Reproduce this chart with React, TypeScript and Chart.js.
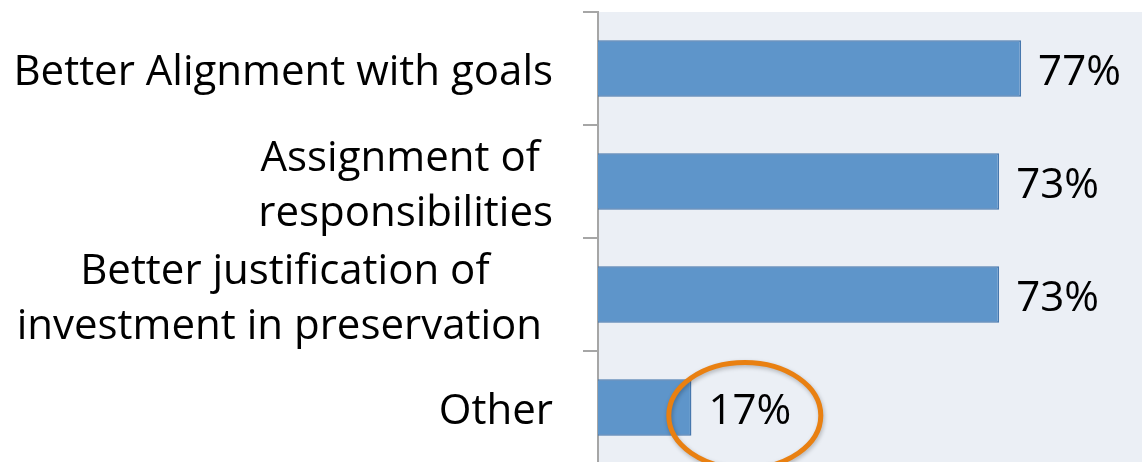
import React, { useEffect, useRef } from "react";
import { Chart, registerables } from "chart.js";

Chart.register(...registerables);

const categories: (string | string[])[] = [
  "Better Alignment with goals",
  ["Assignment of ", "responsibilities"],
  ["Better justification of", "investment in preservation "],
  "Other",
];
const values: number[] = [77, 73, 73, 17];
const valueLabels: string[] = ["77%", "73%", "73%", "17%"];
const highlightIndex = 3;

const FONT = "'Open Sans', sans-serif";
const LABEL_SIZE = 42;

export default function App() {
  const ref = useRef<HTMLCanvasElement | null>(null);

  useEffect(() => {
    if (!ref.current) return;

    const bgPlugin = {
      id: "plotBg",
      beforeDraw(chart: any) {
        const { ctx, chartArea } = chart;
        ctx.save();
        ctx.fillStyle = "#EBEFF5";
        ctx.fillRect(chartArea.left, chartArea.top, chartArea.right - chartArea.left, chartArea.bottom - chartArea.top);
        ctx.restore();
      },
    };

    const labelsPlugin = {
      id: "catLabels",
      afterDraw(chart: any) {
        const { ctx } = chart;
        const yScale = chart.scales.y;
        const rightEdge = 553;
        const lineH = 55;
        ctx.save();
        ctx.font = `${LABEL_SIZE}px ${FONT}`;
        ctx.fillStyle = "#000";
        ctx.textBaseline = "middle";
        categories.forEach((lab, i) => {
          const lines = Array.isArray(lab) ? lab : [lab];
          const w = Math.max(...lines.map((l) => ctx.measureText(l).width));
          const left = rightEdge - w;
          const cy = yScale.getPixelForValue(i) + 5;
          lines.forEach((l, j) => {
            const y = cy + (j - (lines.length - 1) / 2) * lineH;
            const lw = ctx.measureText(l).width;
            ctx.textAlign = "left";
            ctx.fillText(l, left + (w - lw) / 2, y);
          });
        });
        ctx.restore();
      },
    };

    const valuePlugin = {
      id: "valueLabels",
      afterDatasetsDraw(chart: any) {
        const { ctx } = chart;
        const meta = chart.getDatasetMeta(0);
        ctx.save();
        ctx.font = `${LABEL_SIZE}px ${FONT}`;
        ctx.fillStyle = "#000";
        ctx.textBaseline = "middle";
        ctx.textAlign = "left";
        meta.data.forEach((bar: any, i: number) => {
          const tx = bar.x + 17;
          const ty = bar.y + 5;
          ctx.fillText(valueLabels[i], tx, ty);
          if (i === highlightIndex) {
            const tw = ctx.measureText(valueLabels[i]).width;
            const cx = tx + tw / 2 - 5;
            const cy = bar.y + 8;
            ctx.save();
            ctx.shadowColor = "rgba(0,0,0,0.25)";
            ctx.shadowBlur = 4;
            ctx.shadowOffsetX = 1;
            ctx.shadowOffsetY = 2;
            ctx.strokeStyle = "#E98011";
            ctx.lineWidth = 5;
            ctx.beginPath();
            ctx.ellipse(cx, cy, 76, 53, 0, 0, Math.PI * 2);
            ctx.stroke();
            ctx.restore();
          }
        });
        ctx.restore();
      },
    };

    const chart = new Chart(ref.current, {
      type: "bar",
      data: {
        labels: categories.map((c) => (Array.isArray(c) ? c.join(" ") : c)),
        datasets: [
          {
            data: values,
            backgroundColor: "#5E95CA",
            borderColor: "#4677AD",
            borderWidth: 1.5,
            categoryPercentage: 0.5,
            barPercentage: 1,
          },
        ],
      },
      options: {
        indexAxis: "y",
        animation: false,
        responsive: false,
        maintainAspectRatio: false,
        layout: { padding: { top: 12, left: 0, right: 0, bottom: 0 } },
        plugins: { legend: { display: false }, tooltip: { enabled: false } },
        scales: {
          x: { display: false, min: 0, max: 99 },
          y: {
            offset: true,
            afterFit(scale: any) {
              scale.width = 598;
            },
            ticks: { display: false },
            grid: {
              drawOnChartArea: false,
              drawTicks: true,
              tickLength: 15,
              color: "#A6A6A6",
              lineWidth: 2,
              offset: true,
            },
            border: { display: true, color: "#A6A6A6", width: 2 },
          },
        },
      },
      plugins: [bgPlugin, valuePlugin, labelsPlugin],
    });

    return () => chart.destroy();
  }, []);

  return (
    <div style={{ position: "fixed", left: 0, top: 0, width: 1142, height: 464, background: "#fff" }}>
      <canvas ref={ref} width={1142} height={464} style={{ width: 1142, height: 464, display: "block" }} />
    </div>
  );
}
